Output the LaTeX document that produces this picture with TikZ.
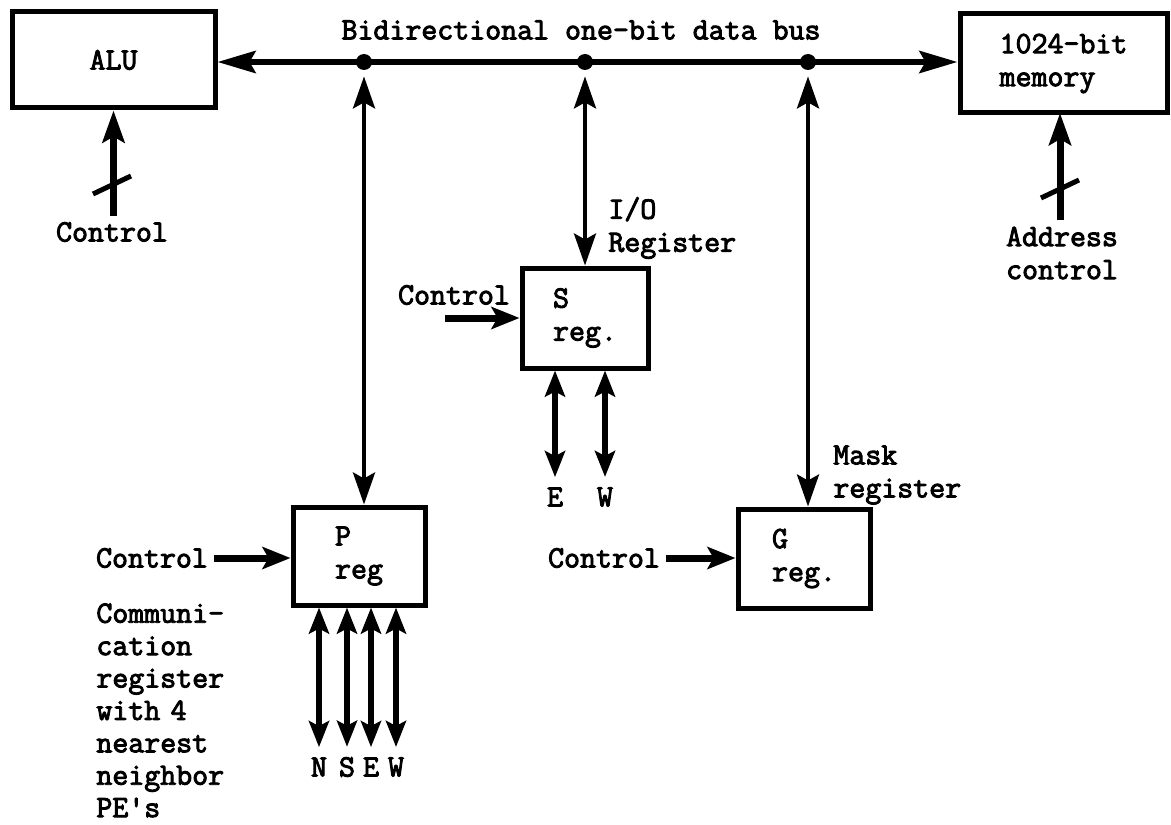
\documentclass[tikz,border=0pt]{standalone}
\usepackage{fontspec}
\newfontfamily\tw{Latin Modern Mono}[FakeBold=3]
\usetikzlibrary{arrows.meta}
\begin{document}
\begin{tikzpicture}[x=0.5pt,y=-0.5pt,
  lbl/.style={font=\fontsize{15.5}{16.5}\selectfont\tw, inner sep=0pt, align=left},
  buslbl/.style={font=\fontsize{15.5}{16.5}\selectfont\tw, inner sep=0pt},
  box/.style={draw, line width=2.5pt, inner sep=0pt, font=\fontsize{15.5}{16.5}\selectfont\tw, align=left},
  bus/.style={line width=3pt},
  wire/.style={line width=2pt},
  ctl/.style={line width=3.5pt},
  bigtip/.style={arrows={Stealth[length=19pt,width=11pt,inset=3pt]-Stealth[length=19pt,width=11pt,inset=3pt]}},
  midtip/.style={arrows={Stealth[length=16pt,width=11pt,inset=3pt]-Stealth[length=16pt,width=11pt,inset=3pt]}},
  smalltip/.style={arrows={Stealth[length=13pt,width=10pt,inset=2.5pt]-Stealth[length=13pt,width=10pt,inset=2.5pt]}},
  intip/.style={-{Stealth[length=16pt,width=11pt,inset=3pt]}},
  ctltip/.style={-{Stealth[length=14pt,width=11pt,inset=3pt]}},
  dot/.style={circle, fill=black, inner sep=0pt, minimum size=8pt},
  slash/.style={line width=2.5pt}
]
\useasboundingbox (0,0) rectangle (1171,824);

% boxes
\node[box, minimum width=101.5pt, minimum height=48pt] (alu) at (113.5,60) {ALU};
\node[box, minimum width=103.5pt, minimum height=49.5pt] (mem) at (1063.5,63.5) {1024-bit\\memory};
\node[box, minimum width=63pt, minimum height=50pt] (sreg) at (585,318) {S\\reg.};
\node[box, minimum width=66pt, minimum height=49pt] (preg) at (359,556) {P\\reg};
\node[box, minimum width=66pt, minimum height=49.5pt] (greg) at (804,558.5) {G\\reg.};

% bus
\node[buslbl] (buslbl) at (581,30) {Bidirectional one-bit data bus};
\node[dot] (j1) at (364,62) {};
\node[dot] (j2) at (585,62) {};
\node[dot] (j3) at (808,62) {};
\draw[bus, bigtip] (alu.east |- j1) -- (mem.west |- j1);

% vertical connections from bus
\draw[wire, midtip, shorten <=3pt] (j1.south) -- (j1 |- preg.north);
\draw[wire, midtip, shorten <=3pt] (j2.south) -- (sreg.north);
\draw[wire, midtip, shorten <=3pt] (j3.south) -- (j3 |- greg.north);

% ALU control
\node[lbl] (ctlA) at (112,232) {Control};
\draw[ctl, intip] (ctlA.north -| alu.south) ++(0,-6) -- (alu.south);
\coordinate (slA) at (112,185);
\draw[slash] ([shift={(-19,9)}]slA) -- ([shift={(19,-9)}]slA);

% memory address control
\node[lbl, align=center] (addr) at (1062,253) {Address\\control};
\coordinate (memc) at (1060,113);
\draw[ctl, intip] (addr.north -| memc) ++(0,-6) -- (memc);
\coordinate (slM) at (1060,189);
\draw[slash] ([shift={(-19,9)}]slM) -- ([shift={(19,-9)}]slM);

% S register
\node[lbl, anchor=west] (io) at (608,228) {I/O\\Register};
\node[lbl] (ctlS) at (454,295) {Control};
\coordinate (cS) at (445,318);
\draw[ctl, ctltip] (cS) -- (sreg.west);
\node[lbl] (sE) at (555,497) {E};
\node[lbl] (sW) at (605,497) {W};
\draw[wire, line width=3pt, smalltip] (sE |- sreg.south) -- ([yshift=5pt]sE.north);
\draw[wire, line width=3pt, smalltip] (sW |- sreg.south) -- ([yshift=5pt]sW.north);

% P register
\node[lbl] (ctlP) at (152,558) {Control};
\draw[ctl, ctltip] ([xshift=3]ctlP.east) -- (preg.west |- ctlP.east);
\node[lbl, anchor=north west, text width=70pt, font=\fontsize{15.5}{16.2}\selectfont\tw] (comm) at (96,603) {Communi-\\cation\\register\\with 4\\nearest\\neighbor\\PE\textquotesingle s};
\node[lbl] (pN) at (319,767) {N};
\node[lbl] (pS) at (347,767) {S};
\node[lbl] (pE) at (371,767) {E};
\node[lbl] (pW) at (396,767) {W};
\foreach \n in {pN,pS,pE,pW}
  \draw[wire, line width=3pt, smalltip] (\n |- preg.south) -- ([yshift=5pt]\n.north);

% G register
\node[lbl] (ctlG) at (604,558) {Control};
\draw[ctl, ctltip] ([xshift=3]ctlG.east) -- (greg.west |- ctlG.east);
\node[lbl, anchor=west] (mask) at (833,475) {Mask\\register};
\end{tikzpicture}
\end{document}
